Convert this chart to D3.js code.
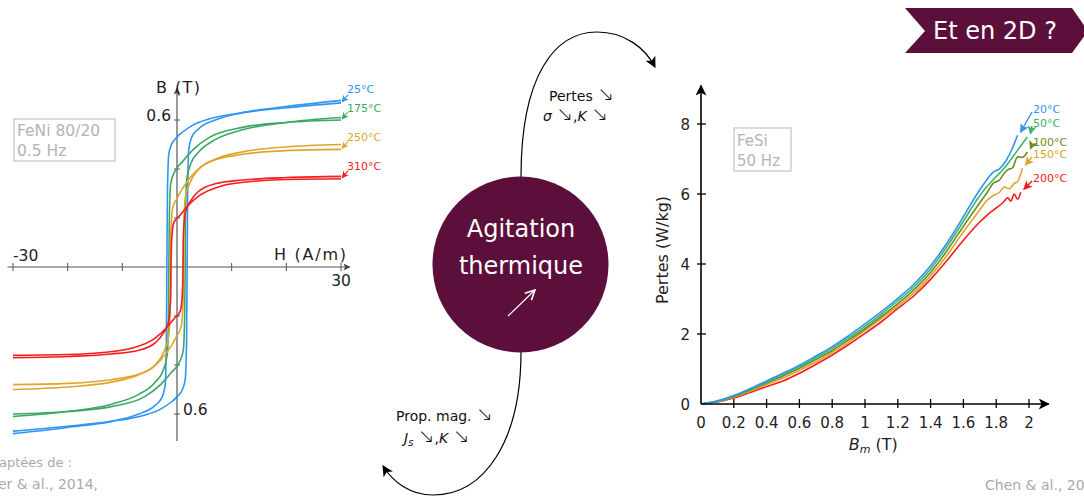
<!DOCTYPE html>
<html><head><meta charset="utf-8">
<script src="https://cdn.jsdelivr.net/npm/d3@7"></script>
<style>
body{margin:0;background:#fff}
svg{display:block}
text{font-family:"DejaVu Sans",Lato,sans-serif}
.arr{font-family:"DejaVu Sans";font-weight:200}
</style>
</head><body>
<svg id="c" width="1084" height="497"></svg>
<script>
// ---------- Left chart: hysteresis loops FeNi 80/20 (descending branch H,B; ascending branch is its point reflection)
const hTicks = [-30,-20,-10,0,10,20,30];
const bTicks = [-0.6,-0.4,-0.2,0.2,0.4,0.6];
const loopLabels = ["25°C","175°C","250°C","310°C"];
const loop25  = [[-30,-0.68],[-20,-0.655],[-12,-0.63],[-7,-0.6],[-4,-0.565],[-2.7,-0.53],[-2.15,-0.48],[-1.95,-0.3],[-1.85,0],[-1.75,0.3],[-1.5,0.46],[-1.0,0.5],[0,0.53],[1,0.55],[3,0.58],[6,0.605],[12,0.63],[20,0.65],[30,0.67]];
const loop175 = [[-30,-0.61],[-20,-0.59],[-12,-0.56],[-7,-0.52],[-4,-0.47],[-2.5,-0.42],[-1.75,-0.35],[-1.55,-0.2],[-1.5,0],[-1.4,0.2],[-1.15,0.34],[-0.4,0.39],[1,0.43],[3,0.48],[6,0.53],[12,0.57],[20,0.59],[30,0.6]];
const loop250 = [[-30,-0.5],[-20,-0.49],[-12,-0.47],[-7,-0.44],[-4,-0.4],[-2.5,-0.35],[-1.5,-0.28],[-1.25,-0.15],[-1.2,0],[-1.1,0.15],[-0.8,0.24],[0,0.28],[1,0.32],[3,0.38],[6,0.43],[12,0.46],[20,0.475],[30,0.48]];
const loop310 = [[-30,-0.37],[-20,-0.365],[-12,-0.355],[-7,-0.34],[-4,-0.31],[-2.5,-0.27],[-1.5,-0.22],[-1.15,-0.12],[-1.1,0],[-0.95,0.12],[-0.6,0.18],[0.5,0.21],[2,0.25],[4,0.29],[8,0.33],[14,0.35],[20,0.357],[30,0.36]];
const loopColors = ["#2f95f2","#3ba862","#dfa52a","#f41c1c"];

// ---------- Right chart: losses vs Bm, FeSi 50 Hz
const bmTicks = [0,0.2,0.4,0.6,0.8,1,1.2,1.4,1.6,1.8,2];
const pTicks = [0,2,4,6,8];
const lossLabels = ["20°C","50°C","100°C","150°C","200°C"];
const loss20  = [[0,0],[0.1,0.09],[0.2,0.24],[0.3,0.44],[0.4,0.66],[0.5,0.88],[0.6,1.11],[0.7,1.37],[0.8,1.64],[0.9,1.95],[1.0,2.29],[1.1,2.64],[1.2,3.02],[1.3,3.43],[1.4,3.95],[1.5,4.6],[1.6,5.35],[1.65,5.75],[1.7,6.12],[1.75,6.45],[1.78,6.62],[1.82,6.72],[1.86,6.95],[1.9,7.32],[1.93,7.68]];
const loss50  = [[0,0],[0.1,0.08],[0.2,0.23],[0.3,0.42],[0.4,0.63],[0.5,0.85],[0.6,1.07],[0.7,1.32],[0.8,1.59],[0.9,1.89],[1.0,2.22],[1.1,2.57],[1.2,2.95],[1.3,3.35],[1.4,3.86],[1.5,4.5],[1.6,5.22],[1.67,5.75],[1.72,6.08],[1.78,6.4],[1.84,6.69],[1.9,7.05],[1.95,7.38],[1.99,7.63]];
const loss100 = [[0,0],[0.1,0.08],[0.2,0.21],[0.3,0.4],[0.4,0.6],[0.5,0.8],[0.6,1.02],[0.7,1.27],[0.8,1.53],[0.9,1.83],[1.0,2.15],[1.1,2.5],[1.2,2.87],[1.3,3.27],[1.4,3.76],[1.5,4.38],[1.6,5.08],[1.7,5.75],[1.75,6.08],[1.78,6.3],[1.82,6.4],[1.85,6.6],[1.87,6.69],[1.9,6.75],[1.93,7.06],[1.96,7.05],[1.99,7.2]];
const loss150 = [[0,0],[0.1,0.07],[0.2,0.19],[0.3,0.37],[0.4,0.56],[0.5,0.74],[0.6,0.96],[0.7,1.2],[0.8,1.47],[0.9,1.77],[1.0,2.1],[1.1,2.44],[1.2,2.8],[1.3,3.18],[1.4,3.66],[1.5,4.25],[1.6,4.92],[1.7,5.55],[1.74,5.8],[1.78,5.95],[1.82,6.05],[1.85,6.2],[1.88,6.15],[1.91,6.3],[1.93,6.35],[1.96,6.74]];
const loss200 = [[0,0],[0.1,0.06],[0.2,0.17],[0.3,0.33],[0.4,0.5],[0.5,0.66],[0.6,0.88],[0.7,1.13],[0.8,1.4],[0.9,1.7],[1.0,2.02],[1.1,2.35],[1.2,2.73],[1.3,3.1],[1.4,3.56],[1.5,4.1],[1.6,4.68],[1.7,5.2],[1.75,5.42],[1.8,5.6],[1.84,5.75],[1.87,5.89],[1.89,5.8],[1.91,6.0],[1.93,5.85],[1.95,6.05]];
const lossColors = ["#2f95f2","#3cb46e","#6b8c22","#dfa52a","#f41c1c"];

const svg = d3.select("#c");
const defs = svg.append("defs");
function marker(id, color, w, h, open){
  const m = defs.append("marker").attr("id",id).attr("viewBox","0 0 10 10").attr("refX",9).attr("refY",5)
    .attr("markerWidth",w).attr("markerHeight",h).attr("markerUnits","userSpaceOnUse").attr("orient","auto");
  if(open) m.append("path").attr("d","M1,1 L9,5 L1,9").attr("fill","none").attr("stroke",color).attr("stroke-width",1.3);
  else m.append("path").attr("d","M0,0 L10,5 L0,10 L2.5,5 Z").attr("fill",color);
}
marker("ablk","#000",13,11,false);
marker("agray","#444",8,7,false);
marker("awhite","#fff",12,12,true);
loopColors.forEach((c,i)=>marker("al"+i,c,7,7,false));
lossColors.forEach((c,i)=>marker("ar"+i,c,10,9,false));

// ===== Left chart
const xH = d3.scaleLinear().domain([-30,30]).range([13,341]);
const yB = d3.scaleLinear().domain([0,0.6]).range([267,120]);
const gL = svg.append("g");
gL.append("line").attr("x1",xH(-31)).attr("x2",xH(31.6)).attr("y1",yB(0)).attr("y2",yB(0))
  .attr("stroke","#555").attr("stroke-width",1.2).attr("marker-end","url(#agray)");
gL.append("line").attr("x1",xH(0)).attr("x2",xH(0)).attr("y1",yB(-0.71)).attr("y2",yB(0.73))
  .attr("stroke","#555").attr("stroke-width",1.2).attr("marker-end","url(#agray)");
gL.selectAll(".ht").data(hTicks.filter(d=>d!==0)).join("line")
  .attr("x1",d=>xH(d)).attr("x2",d=>xH(d)).attr("y1",yB(0)-4).attr("y2",yB(0)+4).attr("stroke","#555");
gL.selectAll(".bt").data(bTicks).join("line")
  .attr("x1",xH(0)-3).attr("x2",xH(0)+3).attr("y1",d=>yB(d)).attr("y2",d=>yB(d)).attr("stroke","#555");
gL.append("text").attr("x",xH(-30)).attr("y",yB(0)-6).attr("font-size",15.5).attr("fill","#222").text("-30");
gL.append("text").attr("x",xH(30)).attr("y",yB(0)+19).attr("font-size",15.5).attr("text-anchor","middle").attr("fill","#222").text("30");
gL.append("text").attr("x",xH(0)-6).attr("y",yB(0.6)+1).attr("font-size",15.5).attr("text-anchor","end").attr("fill","#222").text("0.6");
gL.append("text").attr("x",xH(0)+6).attr("y",yB(-0.6)+1).attr("font-size",15.5).attr("fill","#222").text("0.6");
gL.append("text").attr("x",xH(30)+5).attr("y",yB(0)-7).attr("font-size",16).attr("text-anchor","end").attr("fill","#222")
  .attr("textLength",72).text("H (A/m)");
gL.append("text").attr("x",xH(0)+1).attr("y",93).attr("font-size",16).attr("text-anchor","middle").attr("fill","#222")
  .attr("textLength",44).text("B (T)");
gL.append("rect").attr("x",14).attr("y",119).attr("width",101).attr("height",42).attr("fill","none").attr("stroke","#c8c8c8").attr("stroke-width",1.3);
gL.append("text").attr("x",17).attr("y",136).attr("font-size",15.5).attr("fill","#b4b4b4").text("FeNi 80/20");
gL.append("text").attr("x",17).attr("y",156).attr("font-size",15.5).attr("fill","#b4b4b4").text("0.5 Hz");

const lineH = d3.line().x(d=>xH(d[0])).y(d=>yB(d[1])).curve(d3.curveMonotoneX);
const loops = [loop25,loop175,loop250,loop310];
loops.forEach((L,i)=>{
  const asc = L.map(([h,b])=>[-h,-b]).reverse();
  [L,asc].forEach(br=>gL.append("path").attr("d",lineH(br)).attr("fill","none")
    .attr("stroke",loopColors[i]).attr("stroke-width",1.6));
});
const loopLabY = [93,112,141,170];
loops.forEach((L,i)=>{
  const end = L[L.length-1];
  gL.append("line").attr("x1",xH(end[0])+7).attr("y1",yB(end[1])-8).attr("x2",xH(end[0])+1).attr("y2",yB(end[1])-1)
    .attr("stroke",loopColors[i]).attr("stroke-width",1.1).attr("marker-end",`url(#al${i})`);
  gL.append("text").attr("x",347).attr("y",loopLabY[i]).attr("font-size",11).attr("fill",loopColors[i]).text(loopLabels[i]);
});

// ===== Right chart
const xBm = d3.scaleLinear().domain([0,2]).range([701,1029]);
const yP = d3.scaleLinear().domain([0,8]).range([404,124]);
const gR = svg.append("g");
const lineP = d3.line().x(d=>xBm(d[0])).y(d=>yP(d[1])).curve(d3.curveMonotoneX);
const losses = [loss20,loss50,loss100,loss150,loss200];
[4,3,2,1,0].forEach(i=>{
  gR.append("path").attr("d",lineP(losses[i])).attr("fill","none").attr("stroke",lossColors[i]).attr("stroke-width",1.6);
});
gR.append("line").attr("x1",xBm(0)).attr("x2",xBm(2.12)).attr("y1",yP(0)).attr("y2",yP(0))
  .attr("stroke","#000").attr("stroke-width",1.6).attr("marker-end","url(#ablk)");
gR.append("line").attr("x1",xBm(0)).attr("x2",xBm(0)).attr("y1",yP(0)).attr("y2",yP(9.1))
  .attr("stroke","#000").attr("stroke-width",1.6).attr("marker-end","url(#ablk)");
gR.selectAll(".xt").data(bmTicks.filter(d=>d!==0)).join("line")
  .attr("x1",d=>xBm(d)).attr("x2",d=>xBm(d)).attr("y1",yP(0)-5).attr("y2",yP(0)+4).attr("stroke","#000").attr("stroke-width",1.3);
gR.selectAll(".xl").data(bmTicks).join("text")
  .attr("x",d=>xBm(d)).attr("y",yP(0)+24).attr("text-anchor","middle").attr("font-size",15).attr("fill","#222")
  .text(d=>d3.format("~g")(d));
gR.selectAll(".yt").data(pTicks.filter(d=>d!==0)).join("line")
  .attr("x1",xBm(0)-4).attr("x2",xBm(0)+5).attr("y1",d=>yP(d)).attr("y2",d=>yP(d)).attr("stroke","#000").attr("stroke-width",1.3);
gR.selectAll(".yl").data(pTicks).join("text")
  .attr("x",xBm(0)-11).attr("y",d=>yP(d)+6).attr("text-anchor","end").attr("font-size",15).attr("fill","#222").text(d=>d);
const xl = gR.append("text").attr("x",xBm(1.05)).attr("y",450).attr("text-anchor","middle").attr("font-size",16).attr("fill","#222");
xl.append("tspan").attr("font-style","italic").text("B");
xl.append("tspan").attr("font-style","italic").attr("font-size",11).attr("dy",3).text("m");
xl.append("tspan").attr("dy",-3).text(" (T)");
gR.append("text").attr("transform",`translate(668,${yP(4.4)}) rotate(-90)`).attr("text-anchor","middle").attr("font-size",16).attr("fill","#222").text("Pertes (W/kg)");
gR.append("rect").attr("x",734).attr("y",128).attr("width",57).attr("height",43).attr("fill","none").attr("stroke","#c8c8c8").attr("stroke-width",1.3);
gR.append("text").attr("x",737).attr("y",146).attr("font-size",15).attr("fill","#b4b4b4").text("FeSi");
gR.append("text").attr("x",737).attr("y",166).attr("font-size",15).attr("fill","#b4b4b4").text("50 Hz");
const lossLabY = [113,127,146,158,182];
losses.forEach((L,i)=>{
  const end = L[L.length-1];
  gR.append("line").attr("x1",1032).attr("y1",lossLabY[i]-1).attr("x2",xBm(end[0])+3).attr("y2",yP(end[1])-3)
    .attr("stroke",lossColors[i]).attr("stroke-width",1.4).attr("marker-end",`url(#ar${i})`);
  gR.append("text").attr("x",1033).attr("y",lossLabY[i]).attr("font-size",11).attr("fill",lossColors[i]).text(lossLabels[i]);
});

// ===== Center
const gC = svg.append("g");
gC.append("path").attr("d","M521,177 C521,75 555,32 597,32 C625,32 645,48 655,67")
  .attr("fill","none").attr("stroke","#000").attr("stroke-width",1.2).attr("marker-end","url(#ablk)");
gC.append("path").attr("d","M521,352 C521,440 485,495 433,495 C410,495 393,482 383,466")
  .attr("fill","none").attr("stroke","#000").attr("stroke-width",1.2).attr("marker-end","url(#ablk)");
gC.append("circle").attr("cx",520.5).attr("cy",264.5).attr("r",88).attr("fill","#5c0f3b");
gC.append("text").attr("x",521).attr("y",237).attr("text-anchor","middle").attr("font-size",24).attr("fill","#fff").text("Agitation");
gC.append("text").attr("x",521).attr("y",274).attr("text-anchor","middle").attr("font-size",24).attr("fill","#fff").text("thermique");
gC.append("line").attr("x1",508).attr("y1",316).attr("x2",535).attr("y2",290).attr("stroke","#fff").attr("stroke-width",1.2).attr("marker-end","url(#awhite)");

const AS = 20;
const t1 = gC.append("text").attr("x",549).attr("y",101).attr("font-size",14).attr("fill","#111");
t1.append("tspan").text("Pertes ");
t1.append("tspan").attr("class","arr").attr("font-size",AS).text("↘");
const t2 = gC.append("text").attr("x",543).attr("y",121).attr("font-size",14).attr("fill","#111");
t2.append("tspan").attr("font-style","italic").text("σ ");
t2.append("tspan").attr("class","arr").attr("font-size",AS).text("↘");
t2.append("tspan").text(",");
t2.append("tspan").attr("font-style","italic").text("K ");
t2.append("tspan").attr("class","arr").attr("font-size",AS).text("↘");
const t3 = gC.append("text").attr("x",396).attr("y",421).attr("font-size",14).attr("fill","#111");
t3.append("tspan").text("Prop. mag. ");
t3.append("tspan").attr("class","arr").attr("font-size",AS).text("↘");
const t4 = gC.append("text").attr("x",404).attr("y",443).attr("font-size",14).attr("fill","#111");
t4.append("tspan").attr("font-style","italic").text("J");
t4.append("tspan").attr("font-style","italic").attr("font-size",10).attr("dy",3).text("s");
t4.append("tspan").attr("dy",-3).text(" ");
t4.append("tspan").attr("class","arr").attr("font-size",AS).text("↘");
t4.append("tspan").text(",");
t4.append("tspan").attr("font-style","italic").text("K ");
t4.append("tspan").attr("class","arr").attr("font-size",AS).text("↘");

// ===== Banner + sources
svg.append("path").attr("d","M905,8 L1072,8 L1088,31 L1072,53 L905,53 L925,31 Z").attr("fill","#5c0f3b");
svg.append("text").attr("x",995).attr("y",39).attr("text-anchor","middle").attr("font-size",24).attr("fill","#fff").text("Et en 2D ?");
svg.append("text").attr("x",72).attr("y",467).attr("text-anchor","end").attr("font-size",13).attr("fill","#aaa").text("Adaptées de :");
svg.append("text").attr("x",98).attr("y",489).attr("text-anchor","end").attr("font-size",14).attr("fill","#aaa").text("Gauthier & al., 2014,");
svg.append("text").attr("x",985).attr("y",490).attr("font-size",14).attr("fill","#aaa").text("Chen & al., 2016");
</script>
</body></html>
